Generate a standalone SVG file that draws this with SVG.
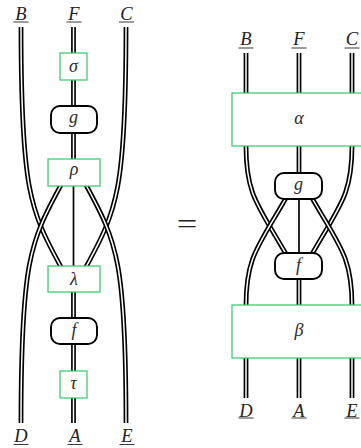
<svg xmlns="http://www.w3.org/2000/svg" xmlns:xlink="http://www.w3.org/1999/xlink" width="361" height="448" viewBox="0 0 361 448">
<style>
.o{fill:none;stroke:#000;stroke-width:4.8}
.i{fill:none;stroke:#fff;stroke-width:1.5}
.s{fill:none;stroke:#000;stroke-width:1.7}
.gb{fill:#fff;stroke:#2fc866;stroke-width:1.2}
.rb{fill:#fff;stroke:#000;stroke-width:1.9}
.t{font-family:"Liberation Serif",serif;font-style:italic;font-size:18px;fill:#2b2b2b;text-anchor:middle}
.lb{font-size:18.5px;fill:#222}
.ul{stroke:#222;stroke-width:0.9}
</style>
<defs>
<path id="wB" d="M21,27 C21,190 30,210 61,267"/>
<path id="wC" d="M126,27 C126,190 117,210 86,267"/>
<path id="wD" d="M61,185 C30,242 21,262 21,423"/>
<path id="wE" d="M86,185 C117,242 126,262 126,423"/>
<path id="wF1" d="M73.5,27 V160"/>
<path id="wF2" d="M73.5,291 V423"/>
<path id="wB2" d="M246,53 V146 C246,195 258,205 286,254"/>
<path id="wC2" d="M352,53 V146 C352,195 340,205 312,254"/>
<path id="wD2" d="M286,198 C258,247 246,257 246,306 V398"/>
<path id="wE2" d="M312,198 C340,247 352,257 352,306 V398"/>
<path id="wF3" d="M299,53 V174"/>
<path id="wF4" d="M299,278 V398"/>
</defs>
<g id="connectors">
<use href="#wF1" class="o"/><use href="#wF1" class="i"/>
<use href="#wF2" class="o"/><use href="#wF2" class="i"/>
<path class="s" d="M73.5,185 V267"/>
<use href="#wB" class="o"/><use href="#wB" class="i"/>
<use href="#wC" class="o"/><use href="#wC" class="i"/>
<use href="#wD" class="o"/><use href="#wD" class="i"/>
<use href="#wE" class="o"/><use href="#wE" class="i"/>
<use href="#wF3" class="o"/><use href="#wF3" class="i"/>
<use href="#wF4" class="o"/><use href="#wF4" class="i"/>
<path class="s" d="M299,198 V254"/>
<use href="#wB2" class="o"/><use href="#wB2" class="i"/>
<use href="#wC2" class="o"/><use href="#wC2" class="i"/>
<use href="#wD2" class="o"/><use href="#wD2" class="i"/>
<use href="#wE2" class="o"/><use href="#wE2" class="i"/>
</g>
<g id="labels">
<text class="t lb" x="21" y="20">B</text><line class="ul" x1="13.5" y1="22" x2="28.5" y2="22"/>
<text class="t lb" x="74" y="20">F</text><line class="ul" x1="66.5" y1="22" x2="81.5" y2="22"/>
<text class="t lb" x="126.5" y="20">C</text><line class="ul" x1="119" y1="22" x2="134" y2="22"/>
<text class="t lb" x="21" y="442">D</text><line class="ul" x1="13.5" y1="444.5" x2="28.5" y2="444.5"/>
<text class="t lb" x="75" y="442">A</text><line class="ul" x1="67.5" y1="444.5" x2="82.5" y2="444.5"/>
<text class="t lb" x="127" y="442">E</text><line class="ul" x1="119.5" y1="444.5" x2="134.5" y2="444.5"/>
<text class="t lb" x="246" y="45">B</text><line class="ul" x1="238.5" y1="48" x2="253.5" y2="48"/>
<text class="t lb" x="299" y="45">F</text><line class="ul" x1="291.5" y1="48" x2="306.5" y2="48"/>
<text class="t lb" x="352" y="45">C</text><line class="ul" x1="344.5" y1="48" x2="359.5" y2="48"/>
<text class="t lb" x="246" y="416.5">D</text><line class="ul" x1="238.5" y1="418" x2="253.5" y2="418"/>
<text class="t lb" x="299" y="416.5">A</text><line class="ul" x1="291.5" y1="418" x2="306.5" y2="418"/>
<text class="t lb" x="352" y="416.5">E</text><line class="ul" x1="344.5" y1="418" x2="359.5" y2="418"/>
<text x="187" y="233.5" transform="translate(187 0) scale(1.3 1) translate(-187 0)" style="font-family:'Liberation Serif',serif;font-size:28px;fill:#222;text-anchor:middle">=</text>
</g>
<g id="sigma"><rect class="gb" x="60" y="53" width="27" height="27"/><text class="t" x="73.5" y="71.5">σ</text></g>
<g id="g1"><rect class="rb" x="51" y="106" width="46" height="27" rx="9"/><text class="t" x="73.5" y="122.5">g</text></g>
<g id="rho"><rect class="gb" x="48" y="159" width="52" height="27"/><text class="t" x="74" y="175">ρ</text></g>
<g id="lambda"><rect class="gb" x="48" y="266" width="52" height="26"/><text class="t" x="74" y="285">λ</text></g>
<g id="f1"><rect class="rb" x="51" y="318" width="46" height="26" rx="9"/><text class="t" x="74" y="335.5">f</text></g>
<g id="tau"><rect class="gb" x="60" y="371" width="27" height="27"/><text class="t" x="73.5" y="389">τ</text></g>
<g id="alpha"><rect class="gb" x="232" y="93" width="134" height="53"/><text class="t" x="299" y="124">α</text></g>
<g id="g2"><rect class="rb" x="275" y="173" width="47" height="26" rx="9"/><text class="t" x="298.5" y="189.5">g</text></g>
<g id="f2"><rect class="rb" x="275" y="253" width="47" height="26" rx="9"/><text class="t" x="298.5" y="270.5">f</text></g>
<g id="beta"><rect class="gb" x="232" y="305" width="134" height="53"/><text class="t" x="299" y="335.5">β</text></g>
</svg>
